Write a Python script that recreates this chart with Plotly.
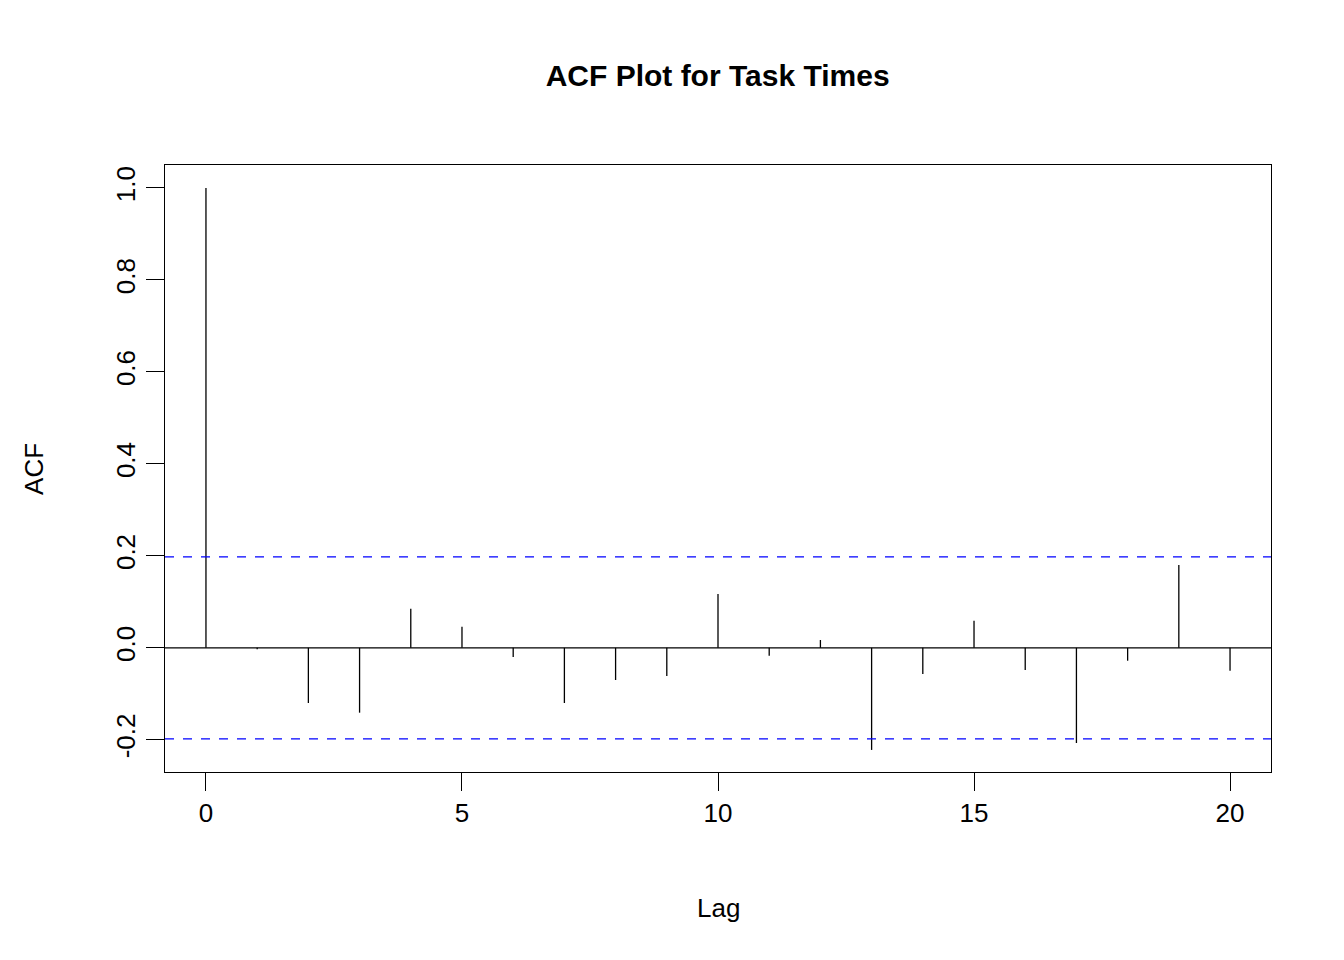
import plotly.graph_objects as go

# ACF values
lags = list(range(21))
acf = [1.0, -0.003, -0.12, -0.141, 0.085, 0.046, -0.02, -0.12, -0.07, -0.061,
       0.117, -0.017, 0.017, -0.222, -0.057, 0.059, -0.048, -0.207, -0.028, 0.18, -0.05]
ci = 0.198

xs, ys = [], []
for l, a in zip(lags, acf):
    xs += [l, l, None]
    ys += [0, a, None]

fig = go.Figure()
fig.add_trace(go.Scatter(x=xs, y=ys, mode="lines", line=dict(color="black", width=1.3),
                         showlegend=False, hoverinfo="skip"))

fig.add_hline(y=0, line=dict(color="black", width=1.3))
for v in (ci, -ci):
    fig.add_hline(y=v, line=dict(color="blue", width=1.3, dash="dash"))

fam = "Liberation Sans, Arial, sans-serif"
tf = dict(family=fam, size=26, color="black")
fig.update_layout(
    width=1344, height=960,
    paper_bgcolor="white", plot_bgcolor="white",
    margin=dict(l=157, r=81, t=157, b=196, autoexpand=False),
    font=tf,
    title=dict(text="<b>ACF Plot for Task Times</b>", x=0.528, xanchor="center",
               y=0.93, yanchor="middle", font=dict(family=fam, size=30, color="black")),
)
fig.add_annotation(text="Lag", xref="paper", yref="paper", x=0.5, y=-0.224,
                   showarrow=False, font=tf, yanchor="middle")
fig.add_annotation(text="ACF", xref="paper", yref="paper", x=-0.119, y=0.5,
                   showarrow=False, font=tf, textangle=-90, xanchor="center")
fig.update_xaxes(range=[-0.8, 20.8], tickvals=[0, 5, 10, 15, 20], ticks="outside",
                 ticklen=18, tickwidth=1.3, tickcolor="black", showgrid=False, zeroline=False,
                 showline=True, linecolor="black", linewidth=1.3, mirror=True,
                 tickfont=tf, automargin=False)
fig.update_yaxes(range=[-0.27, 1.05], tickvals=[-0.2, 0, 0.2, 0.4, 0.6, 0.8, 1.0],
                 ticktext=["-0.2", "0.0", "0.2", "0.4", "0.6", "0.8", "1.0"],
                 tickangle=-90, ticks="outside", ticklen=18, tickwidth=1.3, tickcolor="black",
                 showgrid=False, zeroline=False, showline=True, linecolor="black",
                 linewidth=1.3, mirror=True, tickfont=tf, automargin=False)

fig.write_html("out.html")
